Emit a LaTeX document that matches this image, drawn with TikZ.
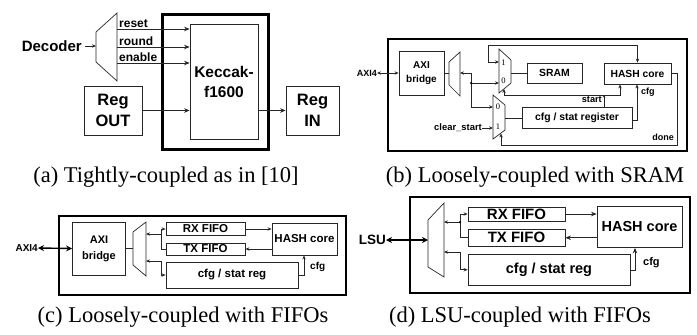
\documentclass[tikz,border=0pt]{standalone}
\usepackage{fontspec}
\setmainfont{Liberation Serif}
\newfontfamily\lsans{Liberation Sans}
\usetikzlibrary{arrows.meta}
\newcommand{\fsz}[2]{\fontsize{#1}{#2}\selectfont}
\tikzset{
 box/.style={draw=black!85, line width=0.8pt, inner sep=0pt, align=center},
 lbl/.style={inner sep=0pt, font=\lsans\bfseries},
 dig/.style={inner sep=0pt, font=\fsz{8.5}{8.5}},
 wire/.style={draw=black!85, line width=0.7pt},
 arr/.style={wire, -{Stealth[length=5.5pt,width=4.5pt]}},
 sarr/.style={wire, -{Stealth[length=4pt,width=3.4pt]}},
 dsarr/.style={wire, {Stealth[length=4pt,width=3.4pt]}-{Stealth[length=4pt,width=3.4pt]}},
 bus/.style={draw=black, line width=1.6pt, {Stealth[length=6pt,width=6pt]}-{Stealth[length=6pt,width=6pt]}},
 muxs/.style={draw=black!85, line width=0.7pt},
 captxt/.style={inner sep=0pt, font=\fsz{22.5}{26}},
 jdot/.style={circle, fill=black, inner sep=0pt, minimum size=2.5pt},
}
\begin{document}
\begin{tikzpicture}[x=1pt,y=-1pt]
\useasboundingbox (0,0) rectangle (697,335);

% ================= (a) =================
\node[box, draw=black, line width=3pt, minimum width=106pt, minimum height=135pt] (outa) at (215,81.5) {};
\node[box, font=\lsans\bfseries\fsz{15.5}{20}, minimum width=68pt, minimum height=115pt] (kec) at (224,81.5) {Keccak-\\f1600};
\node[box, font=\lsans\bfseries\fsz{16.5}{21}, minimum width=58pt, minimum height=49pt] (rout) at (113,110.5) {Reg\\OUT};
\node[box, font=\lsans\bfseries\fsz{16.5}{21}, minimum width=53pt, minimum height=49pt] (rin) at (312.5,110.5) {Reg\\IN};
\node[lbl, font=\lsans\bfseries\fsz{15}{18}, anchor=east] (dec) at (82,46) {Decoder};
\draw[muxs] (96,32) -- (117,13) -- (117,81) -- (96,62) -- cycle;
\coordinate (muxa-in) at (96,46);
\coordinate (muxa-o1) at (117,29);
\coordinate (muxa-o2) at (117,47);
\coordinate (muxa-o3) at (117,63);
\draw[sarr] (dec.east) ++(3,0) -- (muxa-in);
\draw[arr] (muxa-o1) -- (muxa-o1 -| kec.west);
\draw[arr] (muxa-o2) -- (muxa-o2 -| kec.west);
\draw[arr] (muxa-o3) -- (muxa-o3 -| kec.west);
\node[lbl, font=\lsans\bfseries\fsz{12}{14}, anchor=base west] (lreset) at (119,27) {reset};
\node[lbl, font=\lsans\bfseries\fsz{12}{14}, anchor=base west] (lround) at (119,45) {round};
\node[lbl, font=\lsans\bfseries\fsz{12}{14}, anchor=base west] (lenable) at (119,61) {enable};
\draw[arr] (rout.east) -- (rout.east -| kec.west);
\draw[arr] (kec.east |- rin.west) -- (rin.west);

% ================= (b) =================
\node[box, draw=black, line width=1.6pt, minimum width=299pt, minimum height=112pt] (outb) at (537.5,95) {};
\node[box, font=\lsans\bfseries\fsz{10}{14}, minimum width=45pt, minimum height=44pt] (brb) at (421.5,73) {AXI\\bridge};
\node[lbl, font=\lsans\bfseries\fsz{9}{10}, anchor=east] (axib) at (377,73) {AXI4};
\draw[dsarr, line width=1pt] (axib.east) -- (brb.west);
\draw[muxs] (449,62) -- (460,52) -- (460,96) -- (449,85) -- cycle;
\draw[muxs] (499,49) -- (511,60) -- (511,83) -- (499,93) -- cycle;
\draw[muxs] (493,95) -- (505,105) -- (505,130) -- (493,139) -- cycle;
\node[box, font=\lsans\bfseries\fsz{10.4}{12}, minimum width=55pt, minimum height=20pt] (sram) at (554.5,73) {SRAM};
\node[box, font=\lsans\bfseries\fsz{10.3}{12}, minimum width=67pt, minimum height=21pt] (hashb) at (637.5,73.5) {HASH core};
\node[box, font=\lsans\bfseries\fsz{10.4}{12}, minimum width=110pt, minimum height=21pt] (regb) at (577,117.5) {cfg / stat register};
\coordinate (dmx-l) at (449,73);
\coordinate (dmx-r) at (460,73);
\coordinate (jtop) at (471,73);
\coordinate (jmid) at (471,83);
\coordinate (jbot) at (471,107);
\coordinate (umx-1) at (499,62);
\coordinate (umx-0) at (499,83);
\coordinate (umx-o) at (511,73);
\coordinate (umx-sel) at (504,89);
\coordinate (lmx-0) at (493,107);
\coordinate (lmx-1) at (493,128);
\coordinate (lmx-o) at (505,118);
\coordinate (lmx-sel) at (501,133.5);
\coordinate (fb) at (488,45);
\coordinate (st1) at (504,95);
\coordinate (st2) at (620,95);
\coordinate (sp) at (604,95);
\coordinate (cfgb) at (637,120);
\coordinate (dn1) at (677,145);
\draw[wire] (brb.east) -- (dmx-l);
\draw[sarr] (jtop) -- (dmx-r);
\draw[wire] (jtop) -- (jbot);
\draw[sarr] (jmid) -- (umx-0);
\draw[sarr] (jbot) -- (lmx-0);
\node[jdot] (dotb) at (jmid) {};
\draw[wire] (umx-o) -- (sram.west);
\draw[dsarr] (umx-1) -| (fb) -| (hashb.north);
\draw[sarr] (st1) -- (st2) -- (st2 |- hashb.south);
\draw[sarr] (st1) -- (umx-sel);
\draw[wire, -{Stealth[length=2.5pt,width=2.5pt]}] (sp |- regb.north) -- (sp);
\node[lbl, font=\lsans\bfseries\fsz{9.2}{10}, anchor=east] (lstart) at (602,100) {start};
\draw[sarr] (regb.east |- cfgb) -- (cfgb) -- (cfgb |- hashb.south);
\node[lbl, font=\lsans\bfseries\fsz{9}{10}, anchor=west] (lcfgb) at (641,92) {cfg};
\draw[wire] (lmx-o) -- (lmx-o -| regb.west);
\node[lbl, font=\lsans\bfseries\fsz{9.4}{10}, anchor=east] (lclr) at (482,128) {clear\_start};
\draw[sarr] (lclr.east) -- (lmx-1);
\draw[sarr] (hashb.east) -| (dn1) -| (lmx-sel);
\node[lbl, font=\lsans\bfseries\fsz{9}{10}, anchor=east] (ldone) at (674,137) {done};
\node[dig] (d1u) at (503.5,63) {1};
\node[dig] (d0u) at (503.5,81) {0};
\node[dig] (d0l) at (498,107) {0};
\node[dig] (d1l) at (498,127) {1};

% ================= (c) =================
\node[box, draw=black, line width=2pt, minimum width=287pt, minimum height=79pt] (outc) at (202.5,255.5) {};
\node[box, font=\lsans\bfseries\fsz{11}{16}, minimum width=53pt, minimum height=53pt] (brc) at (99,248.5) {AXI\\bridge};
\node[lbl, font=\lsans\bfseries\fsz{10}{11}, anchor=east] (axic) at (38,248) {AXI4};
\draw[bus, line width=1.4pt] (axic.east) -- (brc.west);
\draw[muxs] (133,232) -- (146,222) -- (146,276) -- (133,265) -- cycle;
\node[box, font=\lsans\bfseries\fsz{11.5}{12}, minimum width=79pt, minimum height=12.5pt] (rxc) at (205.5,229) {RX FIFO};
\node[box, font=\lsans\bfseries\fsz{11.5}{12}, minimum width=79pt, minimum height=12pt] (txc) at (205.5,249) {TX FIFO};
\node[box, font=\lsans\bfseries\fsz{11.5}{12}, minimum width=132pt, minimum height=26pt] (regc) at (232,275) {cfg / stat reg};
\node[box, font=\lsans\bfseries\fsz{11.5}{12}, minimum width=65pt, minimum height=32pt] (hashc) at (304.5,239) {HASH core};
\coordinate (cmx-l) at (133,248.5);
\coordinate (cmx-r1) at (146,234);
\coordinate (cmx-r2) at (146,261);
\coordinate (cj1) at (161,234);
\coordinate (cj2) at (161,261);
\coordinate (cjr) at (161,229);
\coordinate (cjt) at (161,249);
\coordinate (cjc) at (161,275);
\coordinate (cfgc) at (304,275);
\draw[wire] (brc.east) -- (cmx-l);
\draw[sarr] (cj1) -- (cmx-r1);
\draw[sarr] (cjt) -- (cjr) -- (rxc.west);
\draw[wire] (txc.west) -- (cjt);
\draw[sarr] (cj2) -- (cmx-r2);
\draw[sarr] (cj2) -- (cjc) -- (regc.west);
\draw[sarr] (rxc.east) -- (rxc.east -| hashc.west);
\draw[sarr] (txc.east -| hashc.west) -- (txc.east);
\draw[sarr] (regc.east |- cfgc) -- (cfgc) -- (cfgc |- hashc.south);
\node[lbl, font=\lsans\bfseries\fsz{10}{11}, anchor=west] (lcfgc) at (310,267) {cfg};

% ================= (d) =================
\node[box, draw=black, line width=2.5pt, minimum width=280pt, minimum height=96pt] (outd) at (550,245) {};
\node[lbl, font=\lsans\bfseries\fsz{13.5}{15}, anchor=east] (lsu) at (386,240) {LSU};
\draw[muxs] (428,220) -- (444,203) -- (444,277) -- (428,267) -- cycle;
\coordinate (dmx-in) at (428,240);
\draw[bus, line width=1.8pt] (lsu.east) -- (dmx-in);
\node[box, font=\lsans\bfseries\fsz{15}{16}, minimum width=97pt, minimum height=14pt] (rxd) at (516.5,214) {RX FIFO};
\node[box, font=\lsans\bfseries\fsz{15}{16}, minimum width=97pt, minimum height=17.5pt] (txd) at (516.5,237.75) {TX FIFO};
\node[box, font=\lsans\bfseries\fsz{14.5}{16}, minimum width=162pt, minimum height=31.5pt] (regd) at (549,269.75) {cfg / stat reg};
\node[box, font=\lsans\bfseries\fsz{14.5}{16}, minimum width=85pt, minimum height=41.5pt] (hashd) at (639.5,226.75) {HASH core};
\coordinate (dmx-r1) at (444,222);
\coordinate (dmx-r2) at (444,252);
\coordinate (dj1) at (460,222);
\coordinate (dj2) at (460,252);
\coordinate (djr) at (460,214);
\coordinate (djt) at (460,237.75);
\coordinate (djc) at (460,269.75);
\coordinate (cfgd) at (635,270);
\draw[sarr] (dj1) -- (dmx-r1);
\draw[sarr] (djt) -- (djr) -- (rxd.west);
\draw[wire] (txd.west) -- (djt);
\node[jdot] (dotd) at (dj1) {};
\draw[sarr] (dj2) -- (dmx-r2);
\draw[sarr] (dj2) -- (djc) -- (regd.west);
\draw[arr] (rxd.east) -- (rxd.east -| hashd.west);
\draw[arr] (txd.east -| hashd.west) -- (txd.east);
\draw[arr] (regd.east |- cfgd) -- (cfgd) -- (cfgd |- hashd.south);
\node[lbl, font=\lsans\bfseries\fsz{11}{12}, anchor=west] (lcfgd) at (643,263) {cfg};

% ================= captions =================
\node[captxt] (capa) at (166,177) {(a) Tightly-coupled as in [10]};
\node[captxt] (capb) at (535,177) {(b) Loosely-coupled with SRAM};
\node[captxt] (capc) at (183,317) {(c) Loosely-coupled with FIFOs};
\node[captxt] (capd) at (520,317) {(d) LSU-coupled with FIFOs};
\end{tikzpicture}
\end{document}
